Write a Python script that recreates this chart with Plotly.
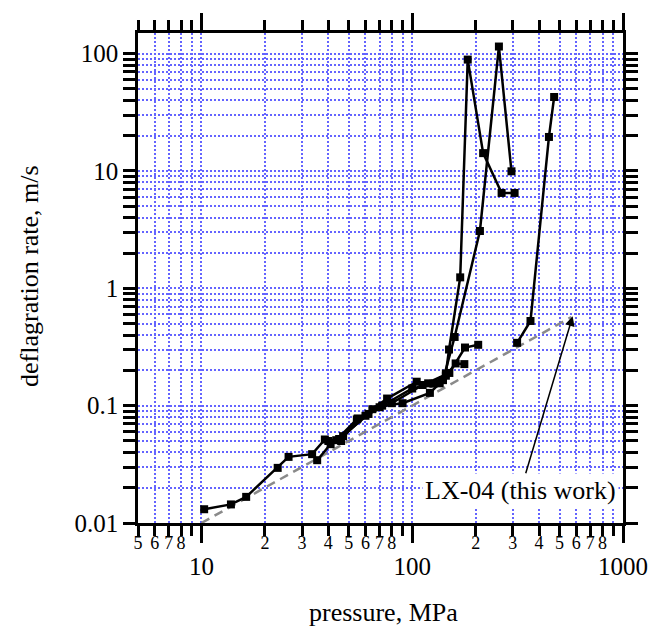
import math
import plotly.graph_objects as go

# ---------------- data ----------------
p1 = [10.3, 13.8, 16.3, 23.0, 25.9, 33.5, 38.5, 43.6, 55.1, 64.7, 76.0, 105, 119, 135, 144.4, 149.5, 168.9, 183.4, 217, 265.5, 306]
v1 = [0.0131, 0.0144, 0.0167, 0.0295, 0.0366, 0.0386, 0.0515, 0.0508, 0.0778, 0.0933, 0.115, 0.160, 0.155, 0.155, 0.188, 0.301, 1.24, 89, 14.2, 6.5, 6.5]

p2 = [35.4, 41, 47, 60, 72, 90, 121.3, 140, 158.9, 209.5, 257.8, 295.7]
v2 = [0.0343, 0.047, 0.055, 0.082, 0.100, 0.105, 0.1285, 0.165, 0.385, 3.08, 115, 9.94]

p3 = [40, 46, 54.6, 70, 100, 126, 144.4, 160.7, 176.7]
v3 = [0.050, 0.050, 0.0763, 0.097, 0.140, 0.154, 0.180, 0.229, 0.226]

p4 = [45, 62, 80, 112, 150, 178, 205.6]
v4 = [0.052, 0.085, 0.105, 0.150, 0.190, 0.313, 0.330]

p5 = [314.5, 364, 445.3, 471.3]
v5 = [0.343, 0.527, 19.5, 42.7]

# LX-04 (this work) trend line
p_fit = [10, 570]
v_fit = [0.01, 0.57]

x_major = [10, 100, 1000]
x_major_text = ["10", "100", "1000"]
x_minor = [5, 6, 7, 8, 9, 20, 30, 40, 50, 60, 70, 80, 90, 200, 300, 400, 500, 600, 700, 800, 900]
x_minor_text = ["5", "6", "7", "8", "", "2", "3", "4", "5", "6", "7", "8", "", "2", "3", "4", "5", "6", "7", "8", ""]

y_major = [0.01, 0.1, 1, 10, 100]
y_major_text = ["0.01", "0.1", "1", "10", "100"]
y_minor = [m * d for d in (0.01, 0.1, 1, 10) for m in range(2, 10)]

x_range = [math.log10(5), 3]
y_range = [-2, 2.176]

FONT = "Times New Roman, Liberation Serif, serif"
GRID = "rgb(100,100,255)"
GRID_DASH = "2px,2px"

fig = go.Figure()

fig.add_trace(go.Scatter(x=p_fit, y=v_fit, mode="lines",
                         line=dict(color="#8a8a8a", width=2.5, dash="9px,6px"),
                         showlegend=False, hoverinfo="skip"))

for px, vy in [(p1, v1), (p2, v2), (p3, v3), (p4, v4), (p5, v5)]:
    fig.add_trace(go.Scatter(x=px, y=vy, mode="lines+markers",
                             line=dict(color="black", width=2.5),
                             marker=dict(symbol="square", size=8, color="black"),
                             showlegend=False))

# overlay axis that carries the small (minor) tick labels
fig.add_trace(go.Scatter(x=[10], y=[1], xaxis="x2", mode="markers",
                         marker=dict(opacity=0), showlegend=False, hoverinfo="skip"))

fig.update_layout(
    width=660, height=626,
    margin=dict(l=138, r=31, t=33, b=103),
    paper_bgcolor="white", plot_bgcolor="white",
    font=dict(family=FONT, color="black"),
    xaxis=dict(
        type="log", range=x_range,
        tickmode="array", tickvals=x_major, ticktext=x_major_text,
        ticks="outside", ticklen=17, tickwidth=2.5, tickcolor="black",
        tickfont=dict(family=FONT, size=25, color="black"),
        ticklabelstandoff=2,
        showline=True, linewidth=2.5, linecolor="black", mirror="allticks",
        showgrid=True, gridcolor=GRID, gridwidth=2, griddash=GRID_DASH,
        zeroline=False,
        minor=dict(tickmode="array", tickvals=x_minor, ticks="outside", ticklen=10,
                   tickwidth=2.5, tickcolor="black",
                   showgrid=True, gridcolor=GRID, gridwidth=2, griddash=GRID_DASH),
    ),
    xaxis2=dict(
        type="log", range=x_range, overlaying="x", anchor="y", side="bottom",
        tickmode="array", tickvals=x_minor, ticktext=x_minor_text,
        ticks="outside", ticklen=3, tickwidth=2.5, tickcolor="black",
        tickfont=dict(family=FONT, size=18, color="black"),
        showline=False, showgrid=False, zeroline=False,
    ),
    yaxis=dict(
        type="log", range=y_range,
        tickmode="array", tickvals=y_major, ticktext=y_major_text,
        ticks="outside", ticklen=12, tickwidth=2.5, tickcolor="black",
        tickfont=dict(family=FONT, size=25, color="black"),
        showline=True, linewidth=2.5, linecolor="black", mirror="allticks",
        showgrid=True, gridcolor=GRID, gridwidth=2, griddash=GRID_DASH,
        zeroline=False,
        minor=dict(tickmode="array", tickvals=y_minor, ticks="outside", ticklen=8,
                   tickwidth=2.5, tickcolor="black",
                   showgrid=True, gridcolor=GRID, gridwidth=2, griddash=GRID_DASH),
    ),
    annotations=[
        dict(text="deflagration rate, m/s", xref="paper", yref="paper",
             x=(27.6 - 138) / 491, y=(523 - 276) / 490, textangle=-90,
             xanchor="center", yanchor="middle", showarrow=False,
             font=dict(family=FONT, size=26, color="black")),
        dict(text="pressure, MPa", xref="paper", yref="paper",
             x=(387 - 138) / 491, y=(523 - 612) / 490,
             xanchor="center", yanchor="middle", showarrow=False,
             font=dict(family=FONT, size=26, color="black")),
        dict(text="LX-04 (this work)", xref="x", yref="y",
             x=math.log10(577), y=math.log10(0.578),
             ax=-52, ay=174, showarrow=True,
             arrowhead=2, arrowsize=1.3, arrowwidth=1.5, arrowcolor="black",
             bgcolor="white", borderpad=2,
             font=dict(family=FONT, size=26, color="black")),
    ],
)

fig.write_html("out.html")
